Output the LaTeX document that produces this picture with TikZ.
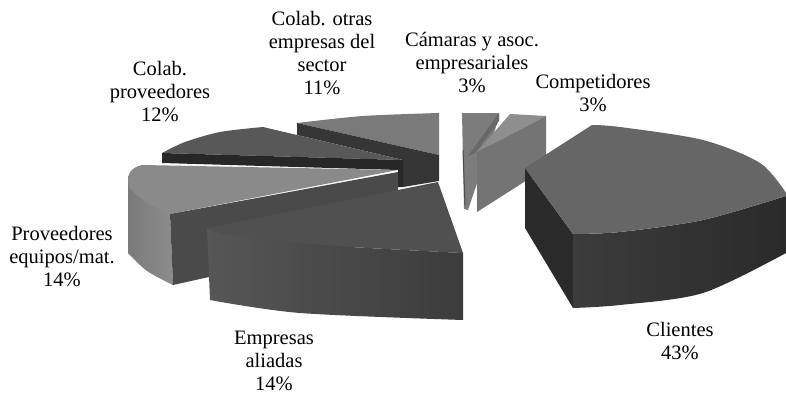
\documentclass[tikz,border=0pt]{standalone}
\usepackage{fontspec}
\setmainfont{Liberation Serif}
\definecolor{cliTop}{HTML}{666666}
\definecolor{cliSide}{HTML}{2A2A2A}
\definecolor{cliFrontL}{HTML}{3C3C3C}
\definecolor{cliFrontR}{HTML}{2A2A2A}
\definecolor{empTop}{HTML}{505050}
\definecolor{empFrontL}{HTML}{565656}
\definecolor{empFrontR}{HTML}{3C3C3C}
\definecolor{peTop}{HTML}{8A8A8A}
\definecolor{peOuterL}{HTML}{7A7A7A}
\definecolor{peOuterR}{HTML}{8C8C8C}
\definecolor{peFront}{HTML}{4A4A4A}
\definecolor{cpTop}{HTML}{585858}
\definecolor{cpDark}{HTML}{272727}
\definecolor{coTop}{HTML}{7A7A7A}
\definecolor{coDark}{HTML}{363636}
\definecolor{caMain}{HTML}{7C7C7C}
\definecolor{caStripe}{HTML}{686868}
\definecolor{comTop}{HTML}{8E8E8E}
\definecolor{comFront}{HTML}{747474}
\tikzset{
  lbl/.style={align=center, inner sep=0pt, font=\fontsize{20.5}{23}\selectfont, text=black},
}
\begin{document}
\begin{tikzpicture}[x=1pt,y=-1pt]
\useasboundingbox (0,0) rectangle (786,396);

% Colab. otras empresas del sector (11%)
\fill[coTop] (297,123) -- plot[smooth] coordinates {(297,123) (363,116) (439,113)} -- (439,155) -- cycle;
\fill[coDark] (297,123) -- (439,155) -- (439,181) -- (403,187) -- (403,160) -- (297,135) -- cycle;

% Camaras (3%)
\fill[caMain] (462,113) -- (499,113) -- (499,118) -- (468,210) -- (464,209) -- cycle;
\fill[caStripe] (499,113) -- (499,121) -- (476,152) -- (468,156) -- cycle;
\draw[line width=1pt, color=black!70] (463,150) -- (465,205);

% Competidores (3%)
\fill[comTop] (510,114) -- (546,116) -- (477,152) -- cycle;
\fill[comFront] (477,152) -- (546,116) -- (546,168) -- (477,212) -- cycle;

% Colab. proveedores (12%)
\fill[cpTop] (162,153) -- plot[smooth] coordinates {(162,153) (185,142) (220,132) (263,127)} -- (403,160) -- cycle;
\fill[cpDark] (162,153) -- (403,160) -- (403,187) -- (398,187) -- (398,170) -- (162,163) -- cycle;

% Proveedores equipos/mat. (14%)
\shade[left color=peOuterL, right color=peOuterR] (143,165) .. controls (133,167) and (128,172) .. (128,180) -- (128,253) -- plot[smooth] coordinates {(128,253) (147,271) (173,285)} -- (170,214) -- cycle;
\fill[peTop] (143,165) -- (398,170) -- (170,214) -- plot[smooth] coordinates {(170,214) (147,203) (130,189)} -- (128,182) .. controls (128,172) and (133,167) .. (143,165) -- cycle;
\fill[peFront] (170,214) -- (398,172) -- (398,235) -- (173,285) -- cycle;

% Empresas aliadas (14%)
\fill[empTop] (207,228) -- (438,182) -- (463,253) -- plot[smooth] coordinates {(463,253) (320,245) (230,235) (207,228)} -- cycle;
\shade[left color=empFrontL, right color=empFrontR] plot[smooth] coordinates {(207,228) (230,235) (320,245) (463,253)} -- (463,320) -- plot[smooth] coordinates {(463,320) (300,313) (210,300)} -- cycle;

% Clientes (43%)
\fill[cliSide] (525,168) -- (573,234) -- (573,308) -- (525,228) -- cycle;
\shade[left color=cliFrontL, right color=cliFrontR] plot[smooth] coordinates {(573,234) (620,232) (703,220) (786,196)} -- (786,253) -- plot[smooth] coordinates {(786,253) (703,293) (620,305) (573,308)} -- cycle;
\fill[cliTop] (525,168) -- (592,125) -- plot[smooth] coordinates {(592,125) (620,127) (703,140) (760,163) (786,193)} -- (786,196) -- plot[smooth] coordinates {(786,196) (703,220) (620,232) (573,234)} -- cycle;

% Labels
\node[lbl] (lcp) at (160,92) {Colab.\\proveedores\\12\%};
\node[lbl] (lco) at (322,53) {Colab. otras\\empresas del\\sector\\11\%};
\node[lbl] (lca) at (472,63) {Cámaras y asoc.\\empresariales\\3\%};
\node[lbl] (lcom) at (593,93) {Competidores\\3\%};
\node[lbl] (lpe) at (62,257) {Proveedores\\equipos/mat.\\14\%};
\node[lbl] (lea) at (274,361) {Empresas\\aliadas\\14\%};
\node[lbl] (lcl) at (680,341) {Clientes\\43\%};
\end{tikzpicture}
\end{document}
